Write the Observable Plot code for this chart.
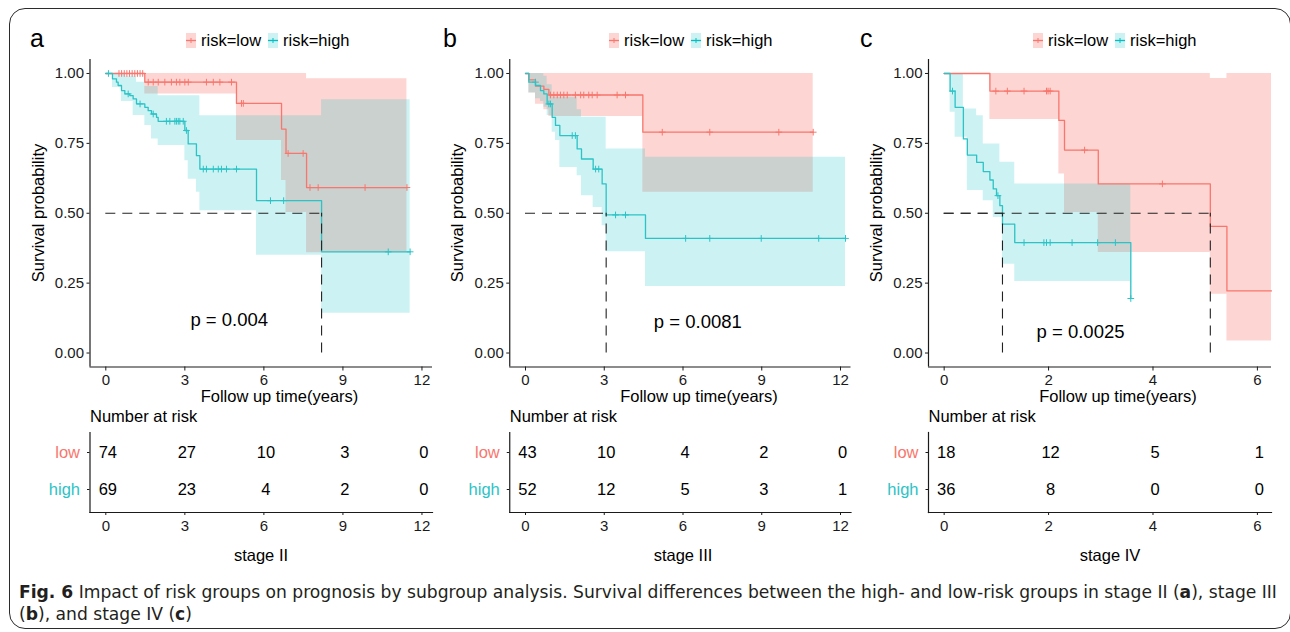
<!DOCTYPE html>
<html><head><meta charset="utf-8">
<script src="https://cdn.jsdelivr.net/npm/d3@7"></script>
<script src="https://cdn.jsdelivr.net/npm/@observablehq/plot@0.6"></script>
<style>
body{margin:0;background:#fff;}
#root{position:relative;width:1290px;height:632px;overflow:hidden;font-family:"Liberation Sans",Arial,sans-serif;color:#000;background:#fff;}
.border{position:absolute;left:9px;top:8px;width:1282px;height:621px;border:1.5px solid #2b2b2b;border-radius:16px;box-sizing:border-box;}
</style></head>
<body><div id="root"><div class="border"></div></div>
<script>
const colorLow = "#F8766D", colorHigh = "#00BFC4";
const groupNames = ["low", "high"];

// ---------- Panel a : stage II ----------
const aLowTime   = [0, 1.48, 4.96, 6.67, 6.84, 7.62];
const aLowSurv   = [1, 0.969, 0.893, 0.801, 0.714, 0.592];
const aLowLower  = [1, 0.927, 0.760, 0.617, 0.503, 0.359];
const aLowUpper  = [1, 1, 1, 1, 1, 0.981];
const aLowEnd    = 11.43;
const aLowCensor = [0.5,0.6,0.7,0.8,0.9,1.0,1.1,1.2,1.3,1.4,1.61,1.8,1.99,2.24,2.49,2.68,2.81,3.0,3.13,3.82,4.08,4.33,4.77,5.15,5.22,6.92,7.49,7.75,8.06,9.84,11.43];

const aHighTime  = [0, 0.253, 0.405, 0.468, 0.595, 0.722, 0.911, 1.038, 1.165, 1.481, 1.608, 1.734, 1.924, 1.987, 3.0, 3.127, 3.44, 3.57, 5.72, 8.19];
const aHighSurv  = [1, 0.981, 0.969, 0.957, 0.939, 0.927, 0.921, 0.909, 0.891, 0.879, 0.867, 0.855, 0.843, 0.829, 0.796, 0.748, 0.706, 0.658, 0.545, 0.362];
const aHighLower = [1, 0.95, 0.95, 0.95, 0.90, 0.90, 0.90, 0.85, 0.85, 0.814, 0.814, 0.766, 0.766, 0.742, 0.688, 0.622, 0.575, 0.509, 0.350, 0.142];
const aHighUpper = [1, 1, 1, 1, 1, 0.99, 0.99, 0.99, 0.969, 0.953, 0.953, 0.953, 0.953, 0.92, 0.92, 0.92, 0.92, 0.849, 0.849, 0.906];
const aHighEnd   = 11.55;
const aHighCensor = [0.1,0.85,1.3,1.8,2.30,2.43,2.62,2.68,2.75,2.81,2.94,3.06,3.70,3.82,4.08,4.27,4.39,4.58,4.96,6.25,6.75,10.72,11.55];

const aTableTime = [0, 3, 6, 9, 12];
const aTableLow  = [74, 27, 10, 3, 0];
const aTableHigh = [69, 23, 4, 2, 0];
const aPval = "p = 0.004";
const aStage = "stage II";

// ---------- Panel b : stage III ----------
const bLowTime   = [0, 0.13, 0.38, 0.70, 0.89, 4.47];
const bLowSurv   = [1, 0.977, 0.955, 0.943, 0.923, 0.790];
const bLowLower  = [1, 0.93, 0.89, 0.87, 0.846, 0.575];
const bLowUpper  = [1, 1, 1, 1, 1, 1];
const bLowEnd    = 10.96;
const bLowCensor = [0.95,1.08,1.21,1.33,1.46,1.59,1.90,2.10,2.22,2.41,2.54,2.73,3.49,3.81,5.21,7.02,9.65,10.96];

const bHighTime  = [0, 0.127, 0.381, 0.571, 0.698, 0.825, 1.016, 1.143, 1.308, 1.968, 2.133, 2.578, 2.92, 3.073, 4.571];
const bHighSurv  = [1, 0.969, 0.957, 0.939, 0.927, 0.891, 0.843, 0.814, 0.778, 0.730, 0.694, 0.658, 0.605, 0.494, 0.410];
const bHighLower = [1, 0.93, 0.91, 0.90, 0.879, 0.85, 0.79, 0.76, 0.664, 0.634, 0.563, 0.521, 0.455, 0.362, 0.238];
const bHighUpper = [1, 1, 1, 1, 0.99, 0.96, 0.915, 0.915, 0.915, 0.87, 0.843, 0.843, 0.843, 0.73, 0.70];
const bHighEnd   = 12.19;
const bHighCensor = [0.38,0.89,0.95,1.78,1.90,2.67,2.79,3.43,3.81,6.10,7.02,8.98,11.17,12.19];

const bTableTime = [0, 3, 6, 9, 12];
const bTableLow  = [43, 10, 4, 2, 0];
const bTableHigh = [52, 12, 5, 3, 1];
const bPval = "p = 0.0081";
const bStage = "stage III";

// ---------- Panel c : stage IV ----------
const cLowTime   = [0, 0.876, 2.197, 2.305, 2.952, 5.098, 5.416];
const cLowSurv   = [1, 0.937, 0.832, 0.726, 0.605, 0.453, 0.222];
const cLowLower  = [1, 0.835, 0.640, 0.503, 0.360, 0.210, 0.043];
const cLowUpper  = [1, 1, 1, 1, 1, 0.982, 1];
const cLowEnd    = 6.27;
const cLowCensor = [0.99,1.21,1.53,1.96,1.99,2.03,2.69,4.18];

const cHighTime  = [0, 0.114, 0.21, 0.368, 0.444, 0.622, 0.749, 0.876, 0.940, 1.003, 1.067, 1.117, 1.352, 3.575];
const cHighSurv  = [1, 0.937, 0.879, 0.766, 0.708, 0.682, 0.649, 0.619, 0.587, 0.563, 0.527, 0.461, 0.395, 0.195];
const cHighLower = [1, 0.861, 0.772, 0.772, 0.581, 0.581, 0.545, 0.545, 0.485, 0.485, 0.485, 0.318, 0.256, 0.256];
const cHighUpper = [1, 1, 1, 0.873, 0.873, 0.849, 0.748, 0.748, 0.748, 0.748, 0.682, 0.682, 0.605, 0.605];
const cHighEnd   = 3.575;
const cHighCensor = [0.16,1.03,1.53,1.91,1.96,2.03,2.45,2.94,3.28,3.575];

const cTableTime = [0, 2, 4, 6];
const cTableLow  = [18, 12, 5, 1];
const cTableHigh = [36, 8, 0, 0];
const cPval = "p = 0.0025";
const cStage = "stage IV";

const yTicks = [0, 0.25, 0.5, 0.75, 1];

// ---------- layout config ----------
const panels = [
  {letter:"a", letterX:30, low:{time:aLowTime,surv:aLowSurv,lower:aLowLower,upper:aLowUpper,end:aLowEnd,censor:aLowCensor},
   high:{time:aHighTime,surv:aHighSurv,lower:aHighLower,upper:aHighUpper,end:aHighEnd,censor:aHighCensor},
   table:{time:aTableTime,low:aTableLow,high:aTableHigh}, pval:aPval, pvalAt:[3.21,0.118], stage:aStage,
   xDomain:[-0.6,12.4], left:89.5, right:432, legendX:186, xTitleX:279.5, stageX:261},
  {letter:"b", letterX:443, low:{time:bLowTime,surv:bLowSurv,lower:bLowLower,upper:bLowUpper,end:bLowEnd,censor:bLowCensor},
   high:{time:bHighTime,surv:bHighSurv,lower:bHighLower,upper:bHighUpper,end:bHighEnd,censor:bHighCensor},
   table:{time:bTableTime,low:bTableLow,high:bTableHigh}, pval:bPval, pvalAt:[4.89,0.109], stage:bStage,
   xDomain:[-0.6,12.4], left:509.25, right:850.5, legendX:609, xTitleX:699, stageX:683},
  {letter:"c", letterX:860, low:{time:cLowTime,surv:cLowSurv,lower:cLowLower,upper:cLowUpper,end:cLowEnd,censor:cLowCensor},
   high:{time:cHighTime,surv:cHighSurv,lower:cHighLower,upper:cHighUpper,end:cHighEnd,censor:cHighCensor},
   table:{time:cTableTime,low:cTableLow,high:cTableHigh}, pval:cPval, pvalAt:[1.77,0.076], stage:cStage,
   xDomain:[-0.3,6.27], left:928, right:1271, legendX:1033, xTitleX:1118, stageX:1110}
];
const bandOpacity = {low: 0.3, high: 0.2};
const lineColor = {low: colorLow, high: "#2CC3C6"};

function stepRows(g) {
  const rows = g.time.map((t, i) => ({t, s: g.surv[i], lo: g.lower[i], hi: g.upper[i]}));
  const last = rows[rows.length - 1];
  if (g.end > last.t) rows.push({t: g.end, s: last.s, lo: last.lo, hi: last.hi});
  return rows;
}
function survAt(g, t) {
  let s = g.surv[0];
  for (let i = 0; i < g.time.length; i++) if (g.time[i] <= t) s = g.surv[i];
  return s;
}
function medianOf(g) {
  const i = g.surv.findIndex(s => s <= 0.5);
  return i < 0 ? null : g.time[i];
}

const root = document.getElementById("root");
const W = 1290, H = 632;
const baseStyle = {position:"absolute", left:"0px", top:"0px", background:"transparent",
  fontFamily:"'Liberation Sans', Arial, sans-serif", fontSize:"15px", color:"#1a1a1a", overflow:"visible"};
const ink = "#1a1a1a";
const intFmt = d => String(d);

panels.forEach(P => {
  const groups = [{g: P.low, k: "low", c: colorLow}, {g: P.high, k: "high", c: colorHigh}];
  const marks = [];
  groups.forEach(({g, k, c}) => {
    marks.push(Plot.areaY(stepRows(g), {x:"t", y1:"lo", y2:"hi", curve:"step-after", fill:c, fillOpacity:bandOpacity[k]}));
  });
  groups.forEach(({g, k}) => {
    marks.push(Plot.line(stepRows(g), {x:"t", y:"s", curve:"step-after", stroke:lineColor[k], strokeWidth:1.3}));
    marks.push(Plot.dot(g.censor, {x:d => d, y:d => survAt(g, d), symbol:"plus", r:2.3, stroke:lineColor[k], strokeWidth:1}));
  });
  groups.forEach(({g}) => {
    const m = medianOf(g);
    if (m != null) {
      marks.push(Plot.ruleY([{y:0.5, x1:0, x2:m}], {y:"y", x1:"x1", x2:"x2", stroke:"#222", strokeWidth:1.1, strokeDasharray:"10,7"}));
      marks.push(Plot.ruleX([{x:m, y1:0, y2:0.5}], {x:"x", y1:"y1", y2:"y2", stroke:"#222", strokeWidth:1.1, strokeDasharray:"10,7"}));
    }
  });
  marks.push(Plot.text([P.pval], {x:P.pvalAt[0], y:P.pvalAt[1], text:d => d, textAnchor:"start", fontSize:18.5, fill:"#000"}));
  marks.push(Plot.ruleX([P.xDomain[0]], {stroke:ink, strokeWidth:1.2}));
  marks.push(Plot.ruleY([-0.05], {stroke:ink, strokeWidth:1.2}));
  marks.push(Plot.axisX({ticks:P.table.time, tickFormat:intFmt, tickSize:4, tickPadding:3, label:null, fontSize:15, color:ink}));
  marks.push(Plot.axisY({ticks:yTicks, tickFormat:d3.format(".2f"), tickSize:3, tickPadding:3, label:null, fontSize:15, color:ink}));

  const km = Plot.plot({
    width:W, height:H, marginLeft:P.left, marginRight:W - P.right, marginTop:59, marginBottom:H - 366.5,
    x:{domain:P.xDomain}, y:{domain:[-0.05, 1.05]}, style:baseStyle, marks
  });
  root.appendChild(km);

  const lowRows = P.table.time.map((t, i) => ({t, n:P.table.low[i], g:"low"}));
  const highRows = P.table.time.map((t, i) => ({t, n:P.table.high[i], g:"high"}));
  const tbl = Plot.plot({
    width:W, height:H, marginLeft:P.left, marginRight:W - P.right, marginTop:432, marginBottom:H - 512,
    x:{domain:P.xDomain}, y:{type:"point", domain:groupNames, range:[451.5, 488.5], padding:0}, style:baseStyle,
    marks:[
      Plot.text(lowRows.concat(highRows), {x:"t", y:"g", text:"n", fontSize:16.5, fill:"#000", dx:2}),
      Plot.text(groupNames, {y:d => d, frameAnchor:"left", dx:-10, textAnchor:"end", fontSize:16.5,
        fill:d => d === "low" ? colorLow : lineColor.high}),
      Plot.axisY({tickSize:2.5, tickFormat:() => "", label:null, color:ink}),
      Plot.frame({anchor:"left", stroke:ink, strokeWidth:1.2}),
      Plot.frame({anchor:"bottom", stroke:ink, strokeWidth:1.2}),
      Plot.axisX({ticks:P.table.time, tickFormat:intFmt, tickSize:3, tickPadding:5, label:null, fontSize:15, color:ink})
    ]
  });
  root.appendChild(tbl);
});

// ---------- overlay text: letters, legends, titles ----------
const ov = d3.select(root).append("svg").attr("width", W).attr("height", H)
  .style("position","absolute").style("left","0px").style("top","0px")
  .attr("font-family","'Liberation Sans', Arial, sans-serif");

panels.forEach(P => {
  ov.append("text").attr("x", P.letterX).attr("y", 47).attr("font-size", 25).attr("fill","#000").text(P.letter);
  const L = P.legendX;
  [["risk=low", colorLow, 0, 0.3], ["risk=high", colorHigh, 82, 0.2]].forEach(([lab, col, off, op]) => {
    const kx = L + off;
    ov.append("rect").attr("x", kx).attr("y", 33).attr("width", 10).attr("height", 15).attr("fill", col).attr("fill-opacity", op);
    ov.append("line").attr("x1", kx).attr("x2", kx + 10).attr("y1", 40.5).attr("y2", 40.5).attr("stroke", col).attr("stroke-width", 1.3);
    ov.append("line").attr("x1", kx + 5).attr("x2", kx + 5).attr("y1", 38).attr("y2", 43).attr("stroke", col).attr("stroke-width", 1);
    ov.append("text").attr("x", kx + 15).attr("y", 46).attr("font-size", 16.5).attr("fill", "#000").text(lab);
  });
  ov.append("text").attr("transform", `translate(${P.left - 52},213) rotate(-90)`).attr("text-anchor","middle")
    .attr("dominant-baseline","central").attr("font-size", 16.5).attr("fill","#000").text("Survival probability");
  ov.append("text").attr("x", P.xTitleX).attr("y", 402).attr("text-anchor","middle").attr("font-size", 16.5).attr("fill","#000").text("Follow up time(years)");
  ov.append("text").attr("x", P.left + 0.5).attr("y", 422).attr("font-size", 16.5).attr("fill","#000").text("Number at risk");
  ov.append("text").attr("x", P.stageX).attr("y", 561).attr("text-anchor","middle").attr("font-size", 16.5).attr("fill","#000").text(P.stage);
});

// ---------- caption ----------
const capG = ov.append("g").attr("font-family","'DejaVu Sans Condensed','DejaVu Sans',sans-serif")
  .style("font-stretch","condensed").attr("font-size", 17.5).attr("fill", "#231f20");
const l1 = capG.append("text").attr("x", 0).attr("y", 598);
l1.append("tspan").attr("font-weight","bold").text("Fig. 6");
l1.append("tspan").text(" Impact of risk groups on prognosis by subgroup analysis. Survival differences between the high- and low-risk groups in stage II (");
l1.append("tspan").attr("font-weight","bold").text("a");
l1.append("tspan").text("), stage III");
const l2 = capG.append("text").attr("x", 0).attr("y", 620);
l2.append("tspan").text("(");
l2.append("tspan").attr("font-weight","bold").text("b");
l2.append("tspan").text("), and stage IV (");
l2.append("tspan").attr("font-weight","bold").text("c");
l2.append("tspan").text(")");
const len = l1.node().getComputedTextLength();
capG.attr("transform", `translate(19,0) scale(${1259 / len},1)`);
</script>
</body></html>
